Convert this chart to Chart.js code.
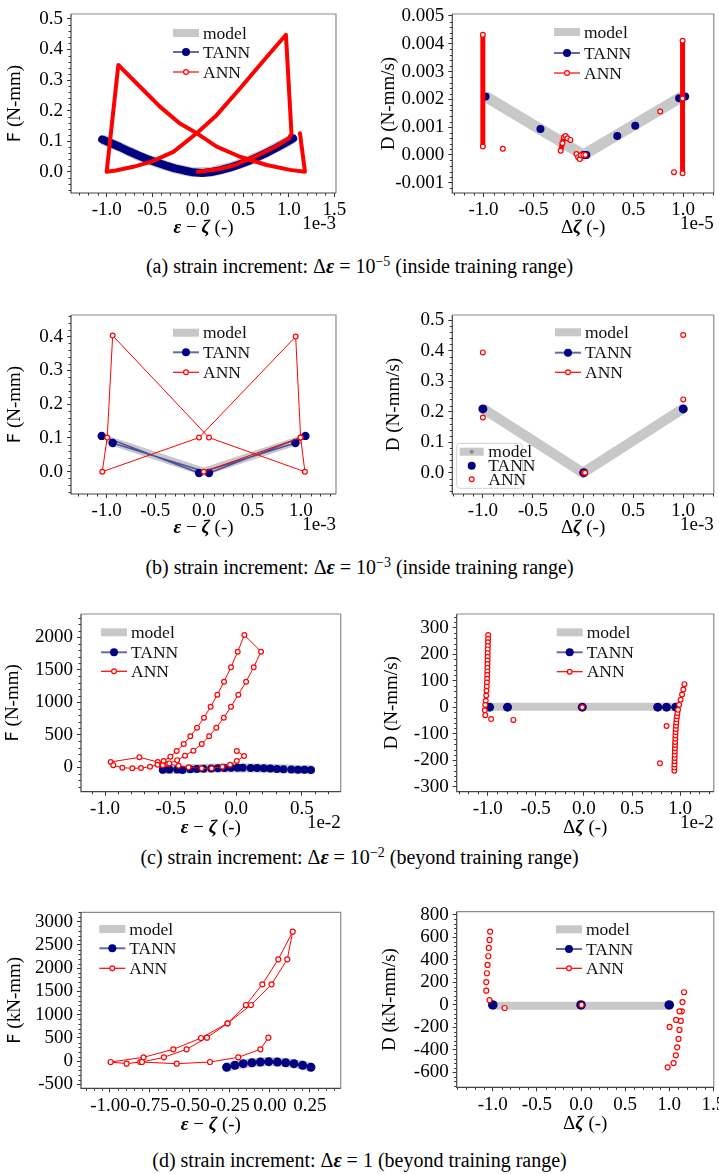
<!DOCTYPE html>
<html><head><meta charset="utf-8">
<script src="https://cdn.jsdelivr.net/npm/chart.js@4.4.1/dist/chart.umd.min.js"></script>
<style>
html,body{margin:0;padding:0;background:#fff;}
body{width:719px;height:1174px;position:relative;overflow:hidden;}
canvas{position:absolute;}
.cap{position:absolute;left:0;width:719px;text-align:center;font-family:'Liberation Serif','Times New Roman',serif;font-size:20px;color:#000;line-height:22px;white-space:nowrap;}
.cap i{font-weight:bold;}
.cap sup{font-size:14px;line-height:0;vertical-align:7px;}
</style></head><body>
<div class="cap" style="top:255px">(a) strain increment: Δ<i>ε</i> = 10<sup>−5</sup> (inside training range)</div>
<div class="cap" style="top:556px">(b) strain increment: Δ<i>ε</i> = 10<sup>−3</sup> (inside training range)</div>
<div class="cap" style="top:846px">(c) strain increment: Δ<i>ε</i> = 10<sup>−2</sup> (beyond training range)</div>
<div class="cap" style="top:1149px">(d) strain increment: Δ<i>ε</i> = 1 (beyond training range)</div>
<script>
// ================= DATA =================
const LEGEND_LABELS = ['model', 'TANN', 'ANN'];

// (a) left: F vs eps-zeta (x in 1e-3)
const A1_XTICKS = [-1.0, -0.5, 0.0, 0.5, 1.0, 1.5];
const A1_YTICKS = [0.0, 0.1, 0.2, 0.3, 0.4, 0.5];
const A1_MODEL_X = [-1.05, -0.85, -0.65, -0.45, -0.25, -0.05, 0.15, 0.35, 0.55, 0.75, 0.95, 1.05];
const A1_MODEL_Y = [0.106, 0.080, 0.052, 0.029, 0.010, -0.002, 0.0, 0.014, 0.035, 0.062, 0.093, 0.109];
const A1_TANN_X = [-1.05, -0.95, -0.85, -0.75, -0.65, -0.55, -0.45, -0.35, -0.25, -0.15, -0.05, 0.05, 0.15, 0.25, 0.35, 0.45, 0.55, 0.65, 0.75, 0.85, 0.95, 1.05];
const A1_TANN_Y = [0.106, 0.093, 0.080, 0.066, 0.053, 0.041, 0.030, 0.020, 0.011, 0.004, -0.002, -0.004, -0.001, 0.005, 0.013, 0.023, 0.034, 0.047, 0.061, 0.076, 0.092, 0.109];
const A1_ANN_X = [0.0, 0.22, 0.41, 0.63, 0.85, 1.0, 1.03, 0.969, 0.72, 0.464, 0.208, -0.011, -0.268, -0.506, -0.708, -0.9, -1.0, -0.872, -0.634, -0.415, -0.196, 0.0, 0.208, 0.464, 0.757, 1.013, 1.178, 1.123];
const A1_ANN_Y = [0.0, 0.008, 0.022, 0.049, 0.081, 0.109, 0.125, 0.448, 0.362, 0.272, 0.185, 0.126, 0.065, 0.033, 0.016, 0.004, 0.0, 0.349, 0.278, 0.213, 0.158, 0.124, 0.082, 0.049, 0.022, 0.006, 0.0, 0.126];

// (a) right: D vs dzeta (x in 1e-5)
const A2_XTICKS = [-1.0, -0.5, 0.0, 0.5, 1.0];
const A2_YTICKS = [-0.001, 0.0, 0.001, 0.002, 0.003, 0.004, 0.005];
const A2_MODEL_X = [-0.98, 0.0, 0.99];
const A2_MODEL_Y = [0.0021, 0.0, 0.0021];
const A2_TANN_X = [-0.98, -0.43, 0.0, 0.03, 0.34, 0.52, 0.96, 1.02];
const A2_TANN_Y = [0.0021, 0.00093, 0.0, 0.0, 0.00068, 0.00105, 0.00204, 0.0021];
const A2_ANN_X = [-1.007, -1.007, -0.807, -0.807, -0.227, -0.227, -0.21, -0.194, -0.178, -0.16, -0.13, -0.13, -0.069, -0.069, -0.052, -0.036, -0.026, 0.0, 0.02, 0.77, 0.77, 0.908, 0.908, 0.994, 0.994, 0.994, 0.994, 0.994];
const A2_ANN_Y = [0.00432, 0.0003, null, 0.00022, null, 0.00015, 0.00042, 0.00064, 0.00068, 0.0006, null, 0.00054, null, 0.00003, -0.00008, -0.00015, -0.00001, 0.0, 0.0, null, 0.00156, null, -0.00062, null, 0.00411, -0.00066, null, 0.00203];

// (b) left (x in 1e-3)
const B1_XTICKS = [-1.0, -0.5, 0.0, 0.5, 1.0];
const B1_YTICKS = [0.0, 0.1, 0.2, 0.3, 0.4];
const B1_MODEL_X = [-1.0, 0.0, 1.0];
const B1_MODEL_Y = [0.095, 0.0, 0.095];
const B1_TANN_X = [-1.051, -0.049, 0.943, 1.046, 0.054, -0.938];
const B1_TANN_Y = [0.106, -0.004, 0.085, 0.106, -0.004, 0.085];
const B1_ANN_X = [0.0, 0.997, 0.946, -0.049, -1.045, -0.994, -0.938, 0.054, 1.041, 0.997];
const B1_ANN_Y = [0.0, 0.101, 0.400, 0.101, 0.0, 0.101, 0.403, 0.101, 0.0, 0.101];

// (b) right (x in 1e-3)
const B2_XTICKS = [-1.0, -0.5, 0.0, 0.5, 1.0];
const B2_YTICKS = [0.0, 0.1, 0.2, 0.3, 0.4, 0.5];
const B2_MODEL_X = [-1.0, 0.0, 1.0];
const B2_MODEL_Y = [0.21, 0.0, 0.21];
const B2_TANN_X = [-1.0, 0.007, 1.0];
const B2_TANN_Y = [0.209, 0.0, 0.209];
const B2_ANN_X = [-1.0, -1.0, 0.007, 0.02, 1.0, 1.0];
const B2_ANN_Y = [0.394, 0.181, 0.0, 0.0, 0.451, 0.240];

// (c) left (x in 1e-2)
const C1_XTICKS = [-1.0, -0.5, 0.0, 0.5];
const C1_YTICKS = [0, 500, 1000, 1500, 2000];
const C1_MODEL_X = [-0.58, -0.45, -0.3, -0.15, 0.0, 0.15, 0.3, 0.45, 0.58];
const C1_MODEL_Y = [-36, -28, -20, -12, -8, -12, -20, -28, -36];
const C1_TANN_X = [-0.56, -0.51, -0.45, -0.41, -0.35, -0.30, -0.25, -0.19, -0.14, -0.09, -0.04, 0.01, 0.05, 0.11, 0.16, 0.21, 0.26, 0.31, 0.36, 0.42, 0.47, 0.52, 0.57];
const C1_TANN_Y = [-38, -35, -32, -42, -30, -26, -22, -18, -14, -10, -6, -5, -6, -9, -12, -16, -20, -25, -30, -34, -38, -36, -40];
const C1_ANN_X = [0.004, 0.06, 0.004, -0.047, -0.105, -0.187, -0.263, -0.363, -0.44, -0.522, -0.598, -0.738, -0.957, -0.937, -0.868, -0.792, -0.726, -0.657, -0.6, -0.553, -0.502, -0.454, -0.40, -0.35, -0.299, -0.246, -0.195, -0.144, -0.093, -0.040, 0.011, 0.062, 0.189, 0.133, 0.075, 0.016, -0.04, -0.095, -0.152, -0.207, -0.263, -0.327, -0.39, -0.45, -0.51, -0.56];
const C1_ANN_Y = [251, 174, 97, 40, 9, -15, -15, 0, 25, 51, 82, 154, 82, 31, -6, -15, -11, 9, 40, 97, 164, 251, 358, 477, 609, 763, 932, 1117, 1317, 1538, 1778, 2035, 1778, 1538, 1317, 1117, 932, 763, 609, 477, 358, 256, 178, 110, 60, 31];

// (c) right (x in 1e-2)
const C2_XTICKS = [-1.0, -0.5, 0.0, 0.5, 1.0];
const C2_YTICKS = [-300, -200, -100, 0, 100, 200, 300];
const C2_MODEL_X = [-0.99, 0.99];
const C2_MODEL_Y = [2, 2];
const C2_TANN_X = [-0.98, -0.794, -0.017, 0.767, 0.859, 0.954];
const C2_TANN_Y = [0, 0, 0, 0, 0, 0];
const C2_ANN_X = [-0.995, -0.996, -0.997, -0.998, -0.999, -1.0, -1.0, -1.001, -1.002, -1.003, -1.004, -1.005, -1.006, -1.008, -1.01, -1.012, -1.015, -1.02, -1.025, -1.03, -1.025, -0.964, -0.733, -0.017,
  0.94, 0.94, 0.941, 0.942, 0.943, 0.944, 0.945, 0.946, 0.947, 0.948, 0.95, 0.951, 0.953, 0.955, 0.957, 0.96, 0.963, 0.967, 0.972, 0.978, 0.99, 1.005, 1.02, 1.033, 1.045, 0.859, 0.79];
const C2_ANN_Y = [272, 258, 245, 231, 218, 204, 190, 176, 163, 149, 135, 121, 107, 93, 78, 62, 44, 24, 8, -12, -30, -45, -48, 0,
  -240, -228, -216, -204, -192, -180, -167, -155, -143, -131, -119, -107, -94, -82, -70, -58, -46, -34, -22, -10, 9, 28, 48, 67, 87, -71, -212];

// (d) left (x in 1)
const D1_XTICKS = [-1.0, -0.75, -0.5, -0.25, 0.0, 0.25];
const D1_YTICKS = [-500, 0, 500, 1000, 1500, 2000, 2500, 3000];
const D1_MODEL_X = [-0.275, -0.219, -0.113, -0.008, 0.098, 0.204, 0.26];
const D1_MODEL_Y = [-135, -89, -33, -8, -30, -86, -135];
const D1_TANN_X = [-0.271, -0.219, -0.167, -0.113, -0.06, -0.008, 0.046, 0.098, 0.15, 0.204, 0.256];
const D1_TANN_Y = [-132, -89, -54, -33, -18, -11, -18, -33, -54, -89, -132];
const D1_ANN_X = [-0.01, -0.06, -0.198, -0.375, -0.583, -0.81, -0.896, -0.996, -0.79, -0.604, -0.431, -0.265, -0.15, -0.048, 0.052, 0.142, 0.108, 0.01, -0.119, -0.265, -0.394, -0.521, -0.663, -0.80];
const D1_ANN_Y = [505, 255, 83, -18, -54, -18, -54, -18, 83, 255, 498, 815, 1208, 1653, 2191, 2785, 2191, 1653, 1208, 815, 505, 255, 83, -18];

// (d) right (x in 1)
const D2_XTICKS = [-1.0, -0.5, 0.0, 0.5, 1.0, 1.5];
const D2_YTICKS = [-600, -400, -200, 0, 200, 400, 600, 800];
const D2_MODEL_X = [-0.98, 1.0];
const D2_MODEL_Y = [-7, -7];
const D2_TANN_X = [-1.0, 0.0, 1.0];
const D2_TANN_Y = [0, 0, 0];
const D2_ANN_X = [-1.03, -1.037, -1.045, -1.051, -1.059, -1.067, -1.074, -1.074, -1.037, -0.866, 0.006, 1.168, 1.15, 1.142, 1.116, 1.131, 1.078, 1.116, 1.105, 1.09, 1.075, 1.049, 0.982, 1.004];
const D2_ANN_Y = [652, 578, 507, 433, 356, 282, 204, 127, 44, -27, 0, 113, 26, -56, -56, -142, -133, -222, -302, -376, -447, -516, -554, -195];

// ================= STYLE / HELPERS =================
const SERIF = "'Liberation Serif', 'Times New Roman', serif";
const SANS = "'DejaVu Sans', sans-serif";
const NAVY = '#000080';
const NAVY_LINE = 'rgba(0,0,128,0.6)';
const RED = '#ff0000';
const GRAY = '#c8c8c8';
const F_REG = '19px ' + SERIF;
const F_IT = 'italic bold 19px ' + SERIF;
const F_SANS = '18px ' + SANS;
const F_LEG = '17.5px ' + SERIF;

function pts(xs, ys) { return xs.map((x, i) => ({ x: x, y: ys[i] })); }
function fmt(v, d) { if (Math.abs(v) < 1e-12) v = 0; return (v < 0 ? '-' : '') + Math.abs(v).toFixed(d); }

function model(xs, ys, w) {
  return { label: 'model', data: pts(xs, ys), showLine: true, borderColor: GRAY, borderWidth: w,
    pointRadius: 0, borderCapStyle: 'butt', borderJoinStyle: 'miter', order: 3 };
}
function tann(xs, ys, o) {
  return { label: 'TANN', data: pts(xs, ys), showLine: !!o.line, borderColor: o.lineColor || NAVY_LINE,
    borderWidth: o.lw || 1.5, pointRadius: o.r, pointBackgroundColor: NAVY, pointBorderColor: NAVY,
    pointBorderWidth: 0, borderCapStyle: 'round', borderJoinStyle: 'round', order: 2 };
}
function ann(xs, ys, o) {
  return { label: 'ANN', data: pts(xs, ys), showLine: !!o.line, borderColor: RED, borderWidth: o.lw || 1,
    pointRadius: o.r, pointBackgroundColor: '#ffffff', pointBorderColor: RED, pointBorderWidth: 1.2,
    spanGaps: false, borderCapStyle: o.cap || 'butt', borderJoinStyle: 'round', order: 1 };
}

function minorVals(min, max, step, majors) {
  const out = [];
  for (let k = Math.ceil(min / step - 1e-9); k * step <= max + 1e-12; k++) {
    const v = k * step;
    if (!majors.some(m => Math.abs(m - v) < step * 1e-3)) out.push(v);
  }
  return out;
}

function drawRich(ctx, segs, x, y) {
  const ws = segs.map(s => { ctx.font = s[1]; return ctx.measureText(s[0]).width; });
  let sx = x - ws.reduce((a, b) => a + b, 0) / 2;
  ctx.textAlign = 'left'; ctx.textBaseline = 'middle'; ctx.fillStyle = '#000';
  segs.forEach((s, i) => { ctx.font = s[1]; ctx.fillText(s[0], sx, y); sx += ws[i]; });
}

function drawHandle(ctx, lab, hx, y) {
  ctx.save();
  if (lab === 'model') {
    ctx.strokeStyle = GRAY; ctx.lineWidth = 8; ctx.lineCap = 'butt';
    ctx.beginPath(); ctx.moveTo(hx, y); ctx.lineTo(hx + 26, y); ctx.stroke();
  } else if (lab === 'TANN') {
    ctx.strokeStyle = NAVY_LINE; ctx.lineWidth = 2;
    ctx.beginPath(); ctx.moveTo(hx, y); ctx.lineTo(hx + 26, y); ctx.stroke();
    ctx.fillStyle = NAVY; ctx.beginPath(); ctx.arc(hx + 13, y, 4, 0, Math.PI * 2); ctx.fill();
  } else {
    ctx.strokeStyle = RED; ctx.lineWidth = 1.2;
    ctx.beginPath(); ctx.moveTo(hx, y); ctx.lineTo(hx + 26, y); ctx.stroke();
    ctx.fillStyle = '#fff'; ctx.beginPath(); ctx.arc(hx + 13, y, 2.4, 0, Math.PI * 2); ctx.fill(); ctx.stroke();
  }
  ctx.restore();
}

function axisOpts(which, min, max, ticks, dec, size) {
  return {
    type: 'linear', position: which === 'x' ? 'bottom' : 'left', min: min, max: max,
    afterBuildTicks: s => { s.ticks = ticks.map(v => ({ value: v })); },
    afterFit: s => {
      if (which === 'x') { s.height = size; s.paddingLeft = 0; s.paddingRight = 0; }
      else { s.width = size; s.paddingTop = 0; s.paddingBottom = 0; }
    },
    ticks: { callback: v => fmt(v, dec), font: { family: SERIF, size: 19 }, color: '#000',
      padding: which === 'x' ? 2 : 4, maxRotation: 0, minRotation: 0, autoSkip: false, includeBounds: false },
    grid: { drawOnChartArea: false, drawTicks: true, tickLength: 4, color: '#333', lineWidth: 1 },
    border: { display: false }
  };
}

function makeChart(p) {
  const c = document.createElement('canvas');
  c.width = p.cw; c.height = p.ch;
  c.style.left = p.cx + 'px'; c.style.top = p.cy + 'px';
  c.style.width = p.cw + 'px'; c.style.height = p.ch + 'px';
  document.body.appendChild(c);
  const deco = {
    id: 'deco_' + p.id,
    afterDraw(chart) {
      const ctx = chart.ctx, a = chart.chartArea, xs = chart.scales.x, ys = chart.scales.y;
      ctx.save();
      ctx.strokeStyle = '#333'; ctx.lineWidth = 1; ctx.beginPath();
      minorVals(p.xmin, p.xmax, p.xminor, p.xticks).forEach(v => {
        const px = Math.round(xs.getPixelForValue(v)) + 0.5; ctx.moveTo(px, a.bottom); ctx.lineTo(px, a.bottom + 2.5);
      });
      minorVals(p.ymin, p.ymax, p.yminor, p.yticks).forEach(v => {
        const py = Math.round(ys.getPixelForValue(v)) + 0.5; ctx.moveTo(a.left, py); ctx.lineTo(a.left - 2.5, py);
      });
      ctx.stroke();
      ctx.lineWidth = 1.2;
      ctx.strokeStyle = '#8a8a8a';
      ctx.beginPath(); ctx.moveTo(a.left, a.top); ctx.lineTo(a.right, a.top); ctx.lineTo(a.right, a.bottom); ctx.stroke();
      ctx.strokeStyle = '#444';
      ctx.beginPath(); ctx.moveTo(a.left, a.top); ctx.lineTo(a.left, a.bottom); ctx.lineTo(a.right, a.bottom); ctx.stroke();
      drawRich(ctx, p.xtitle, (a.left + a.right) / 2, a.bottom + p.xtitleDy);
      ctx.save();
      ctx.translate(p.ytitleX - p.cx, (a.top + a.bottom) / 2);
      ctx.rotate(-Math.PI / 2);
      drawRich(ctx, p.ytitle, 0, 0);
      ctx.restore();
      if (p.offset) {
        ctx.font = F_REG; ctx.fillStyle = '#000'; ctx.textAlign = 'right'; ctx.textBaseline = 'middle';
        ctx.fillText(p.offset, a.right, a.bottom + 31);
      }
      const hx = p.legend.x - p.cx;
      LEGEND_LABELS.forEach((lab, i) => {
        const y = p.legend.rows[i] - p.cy;
        drawHandle(ctx, lab, hx, y);
        ctx.font = F_LEG; ctx.fillStyle = '#111'; ctx.textAlign = 'left'; ctx.textBaseline = 'middle';
        ctx.fillText(lab, hx + 30, y + 1);
      });
      if (p.legend2) {
        const L2 = p.legend2, bx = L2.x - p.cx, by = L2.y - p.cy;
        ctx.fillStyle = 'rgba(255,255,255,0.8)'; ctx.strokeStyle = '#d0d0d0'; ctx.lineWidth = 1;
        ctx.beginPath(); ctx.roundRect(bx, by, L2.w, L2.h, 3); ctx.fill(); ctx.stroke();
        LEGEND_LABELS.forEach((lab, i) => {
          const y = L2.rows[i] - p.cy, mx = L2.mx - p.cx;
          if (lab === 'model') {
            ctx.strokeStyle = GRAY; ctx.lineWidth = 8; ctx.beginPath(); ctx.moveTo(mx - 12, y); ctx.lineTo(mx + 12, y); ctx.stroke();
            ctx.fillStyle = '#888'; ctx.beginPath(); ctx.arc(mx, y, 2, 0, Math.PI * 2); ctx.fill();
          } else if (lab === 'TANN') {
            ctx.fillStyle = NAVY; ctx.beginPath(); ctx.arc(mx, y, 4, 0, Math.PI * 2); ctx.fill();
          } else {
            ctx.fillStyle = '#fff'; ctx.strokeStyle = RED; ctx.lineWidth = 1.2;
            ctx.beginPath(); ctx.arc(mx, y, 2.4, 0, Math.PI * 2); ctx.fill(); ctx.stroke();
          }
          ctx.font = F_LEG; ctx.fillStyle = '#111'; ctx.textAlign = 'left'; ctx.textBaseline = 'middle';
          ctx.fillText(lab, L2.tx - p.cx, y + 1);
        });
      }
      ctx.restore();
    }
  };
  new Chart(c.getContext('2d'), {
    type: 'scatter',
    data: { datasets: p.datasets },
    options: {
      responsive: false, animation: false, devicePixelRatio: 1, events: [],
      layout: { padding: { left: 0, top: p.T - p.cy, right: p.cx + p.cw - p.R, bottom: 0 } },
      plugins: { legend: { display: false }, tooltip: { enabled: false } },
      scales: {
        x: axisOpts('x', p.xmin, p.xmax, p.xticks, p.xdec, p.cy + p.ch - p.B),
        y: axisOpts('y', p.ymin, p.ymax, p.yticks, p.ydec, p.L - p.cx)
      }
    },
    plugins: [deco]
  });
}

const XT_F = [['ε', F_IT], [' − ', F_REG], ['ζ', F_IT], [' (-)', F_REG]];
const XT_D = [['Δ', F_REG], ['ζ', F_IT], [' (-)', F_REG]];

const panels = [
  { id: 'a1', cx: 0, cy: 0, cw: 360, ch: 245, L: 71, R: 336, T: 14, B: 193,
    xmin: -1.392, xmax: 1.519, ymin: -0.0697, ymax: 0.516, xticks: A1_XTICKS, yticks: A1_YTICKS,
    xdec: 1, ydec: 1, xminor: 0.1, yminor: 0.02, xtitle: XT_F, xtitleDy: 35,
    ytitle: [['F', F_SANS], [' (N-mm)', F_REG]], ytitleX: 15, offset: '1e-3',
    legend: { x: 173, rows: [33, 52, 72] },
    datasets: [model(A1_MODEL_X, A1_MODEL_Y, 10), tann(A1_TANN_X, A1_TANN_Y, { line: true, lw: 8, lineColor: NAVY, r: 0 }),
      ann(A1_ANN_X, A1_ANN_Y, { line: true, lw: 4, r: 0, cap: 'round' })] },
  { id: 'a2', cx: 360, cy: 0, cw: 359, ch: 245, L: 452.3, R: 717.7, T: 14, B: 193,
    xmin: -1.313, xmax: 1.307, ymin: -0.00137, ymax: 0.00507, xticks: A2_XTICKS, yticks: A2_YTICKS,
    xdec: 1, ydec: 3, xminor: 0.1, yminor: 0.0002, xtitle: XT_D, xtitleDy: 35,
    ytitle: [['D (N-mm/s)', F_REG]], ytitleX: 389, offset: '1e-5',
    legend: { x: 554, rows: [32, 53, 73] },
    datasets: [model(A2_MODEL_X, A2_MODEL_Y, 11), tann(A2_TANN_X, A2_TANN_Y, { line: false, r: 4 }),
      ann(A2_ANN_X, A2_ANN_Y, { line: true, lw: 5, r: 2.4, cap: 'round' })] },
  { id: 'b1', cx: 0, cy: 295, cw: 360, ch: 250, L: 71, R: 336, T: 315, B: 494,
    xmin: -1.367, xmax: 1.361, ymin: -0.066, ymax: 0.464, xticks: B1_XTICKS, yticks: B1_YTICKS,
    xdec: 1, ydec: 1, xminor: 0.1, yminor: 0.02, xtitle: XT_F, xtitleDy: 34,
    ytitle: [['F', F_SANS], [' (N-mm)', F_REG]], ytitleX: 15, offset: '1e-3',
    legend: { x: 173, rows: [332.7, 352.3, 372.3] },
    datasets: [model(B1_MODEL_X, B1_MODEL_Y, 8), tann(B1_TANN_X, B1_TANN_Y, { line: true, lw: 1.5, r: 4.2 }),
      ann(B1_ANN_X, B1_ANN_Y, { line: true, lw: 1, r: 2.4 })] },
  { id: 'b2', cx: 360, cy: 295, cw: 359, ch: 250, L: 452.3, R: 717.7, T: 315, B: 494,
    xmin: -1.305, xmax: 1.305, ymin: -0.0698, ymax: 0.5165, xticks: B2_XTICKS, yticks: B2_YTICKS,
    xdec: 1, ydec: 1, xminor: 0.1, yminor: 0.02, xtitle: XT_D, xtitleDy: 34,
    ytitle: [['D (N-mm/s)', F_REG]], ytitleX: 394, offset: '1e-3',
    legend: { x: 555, rows: [332.3, 352.7, 372.3] },
    legend2: { x: 456.7, y: 443.3, w: 65.6, h: 45, rows: [451.7, 465.7, 479.3], mx: 471.7, tx: 488.3 },
    datasets: [model(B2_MODEL_X, B2_MODEL_Y, 10), tann(B2_TANN_X, B2_TANN_Y, { line: false, r: 4.5 }),
      ann(B2_ANN_X, B2_ANN_Y, { line: false, r: 2.4 })] },
  { id: 'c1', cx: 0, cy: 595, cw: 360, ch: 250, L: 81, R: 340.7, T: 614, B: 791.7,
    xmin: -1.183, xmax: 0.796, ymin: -375, ymax: 2358, xticks: C1_XTICKS, yticks: C1_YTICKS,
    xdec: 1, ydec: 0, xminor: 0.1, yminor: 100, xtitle: XT_F, xtitleDy: 36,
    ytitle: [['F', F_SANS], [' (N-mm)', F_REG]], ytitleX: 13.5, offset: '1e-2',
    legend: { x: 101, rows: [632.3, 652.3, 671.3] },
    datasets: [model(C1_MODEL_X, C1_MODEL_Y, 9), tann(C1_TANN_X, C1_TANN_Y, { line: true, lw: 1.5, r: 4 }),
      ann(C1_ANN_X, C1_ANN_Y, { line: true, lw: 1, r: 2.4 })] },
  { id: 'c2', cx: 360, cy: 595, cw: 359, ch: 250, L: 456.7, R: 718, T: 614, B: 791.7,
    xmin: -1.322, xmax: 1.35, ymin: -319, ymax: 351.7, xticks: C2_XTICKS, yticks: C2_YTICKS,
    xdec: 1, ydec: 0, xminor: 0.1, yminor: 20, xtitle: XT_D, xtitleDy: 36,
    ytitle: [['D (N-mm/s)', F_REG]], ytitleX: 392, offset: '1e-2',
    legend: { x: 556.7, rows: [632.3, 652.3, 671.7] },
    datasets: [model(C2_MODEL_X, C2_MODEL_Y, 8), tann(C2_TANN_X, C2_TANN_Y, { line: false, r: 4.5 }),
      ann(C2_ANN_X, C2_ANN_Y, { line: false, r: 2.4 })] },
  { id: 'd1', cx: 0, cy: 890, cw: 360, ch: 255, L: 81, R: 340.7, T: 912.3, B: 1088.3,
    xmin: -1.181, xmax: 0.442, ymin: -583.6, ymax: 3202, xticks: D1_XTICKS, yticks: D1_YTICKS,
    xdec: 2, ydec: 0, xminor: 0.05, yminor: 100, xtitle: XT_F, xtitleDy: 37,
    ytitle: [['F', F_SANS], [' (kN-mm)', F_REG]], ytitleX: 15, offset: '',
    legend: { x: 99.3, rows: [929, 948.3, 968.3] },
    datasets: [model(D1_MODEL_X, D1_MODEL_Y, 9), tann(D1_TANN_X, D1_TANN_Y, { line: true, lw: 1.5, r: 4.5 }),
      ann(D1_ANN_X, D1_ANN_Y, { line: true, lw: 1, r: 2.5 })] },
  { id: 'd2', cx: 360, cy: 890, cw: 359, ch: 255, L: 456.7, R: 717.5, T: 911.7, B: 1087.3,
    xmin: -1.409, xmax: 1.505, ymin: -731.6, ymax: 829, xticks: D2_XTICKS, yticks: D2_YTICKS,
    xdec: 1, ydec: 0, xminor: 0.1, yminor: 40, xtitle: XT_D, xtitleDy: 37,
    ytitle: [['D (kN-mm/s)', F_REG]], ytitleX: 390, offset: '',
    legend: { x: 556, rows: [929.3, 949, 968.3] },
    datasets: [model(D2_MODEL_X, D2_MODEL_Y, 8), tann(D2_TANN_X, D2_TANN_Y, { line: false, r: 4.8 }),
      ann(D2_ANN_X, D2_ANN_Y, { line: false, r: 2.5 })] }
];

panels.forEach(makeChart);
</script>
</body></html>
